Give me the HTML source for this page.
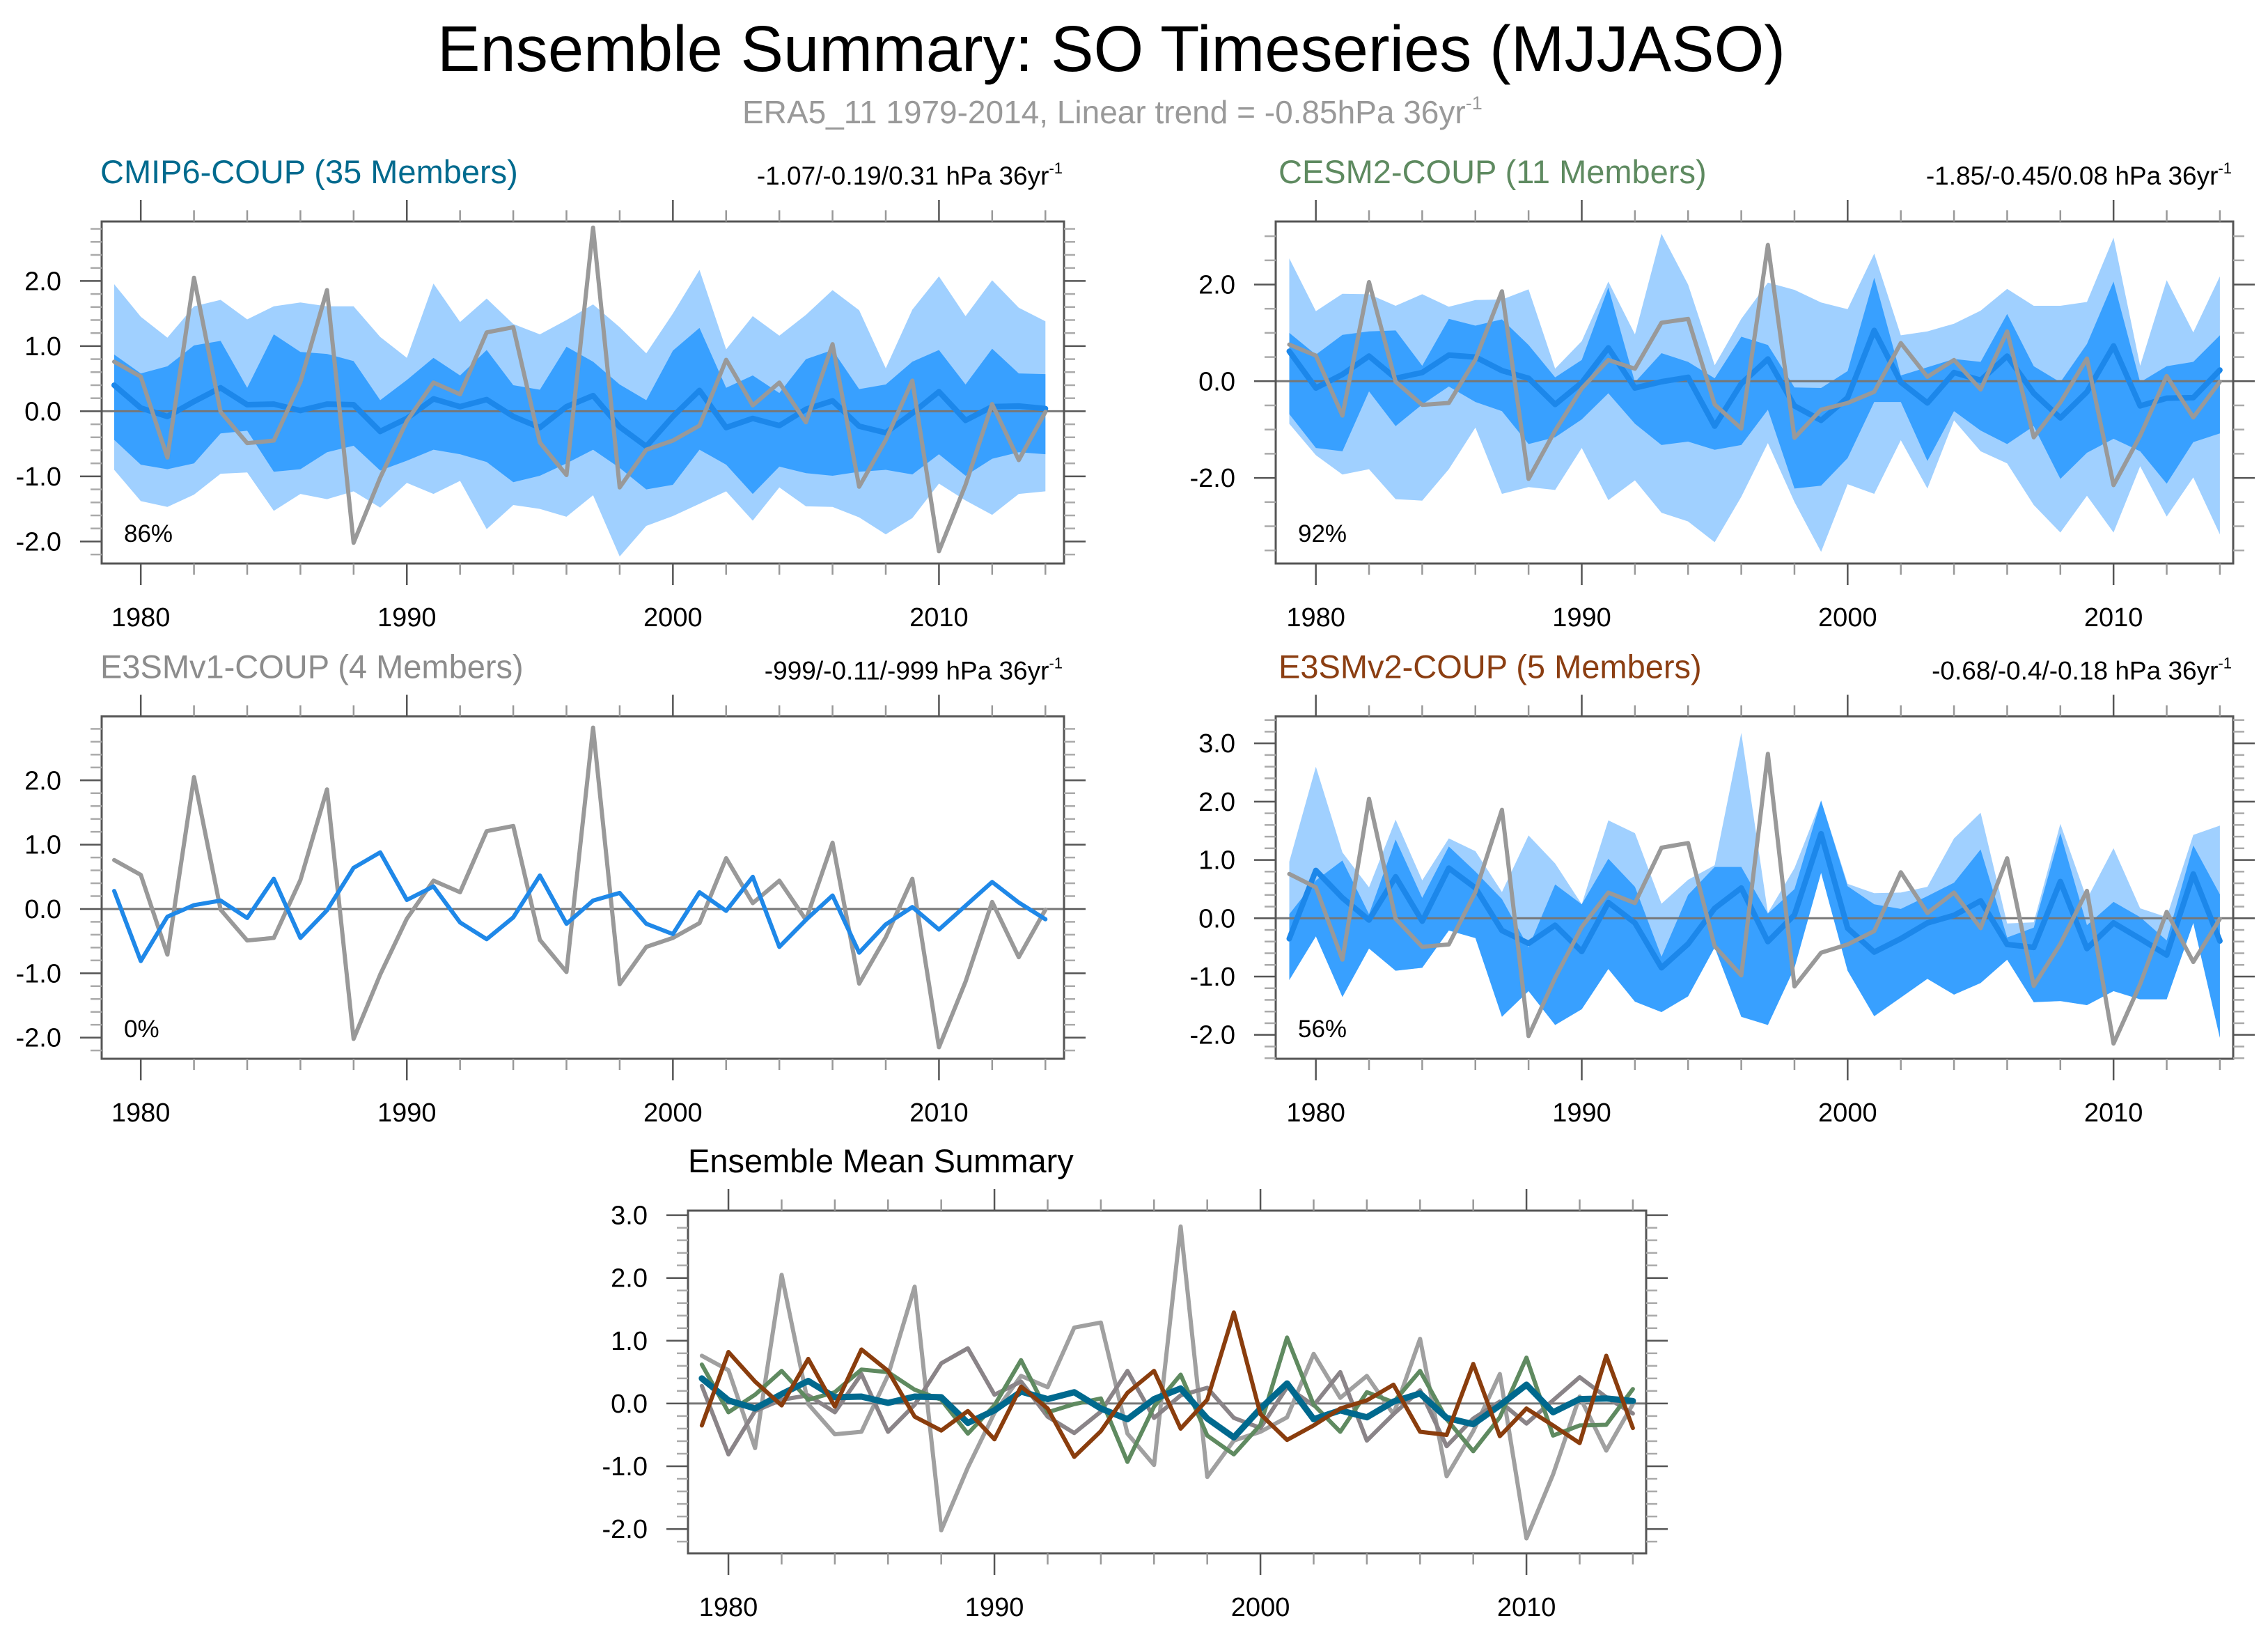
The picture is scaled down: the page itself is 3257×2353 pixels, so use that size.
<!DOCTYPE html>
<html><head><meta charset="utf-8"><title>Ensemble Summary: SO Timeseries (MJJASO)</title>
<style>
html,body{margin:0;padding:0;background:#fff;}
svg{display:block;font-family:"Liberation Sans",Arial,sans-serif;}
</style></head>
<body>
<svg id="chart" xmlns="http://www.w3.org/2000/svg" width="3257" height="2353" viewBox="0 0 3257 2353">
<rect width="3257" height="2353" fill="#fff"/>
<text x="1596" y="102" font-size="93" text-anchor="middle" textLength="1936" lengthAdjust="spacingAndGlyphs" fill="#000">Ensemble Summary: SO Timeseries (MJJASO)</text>
<text x="1066" y="177" font-size="46" fill="#999">ERA5_11 1979-2014, Linear trend = -0.85hPa 36yr<tspan dy="-20" font-size="27">-1</tspan></text>
</svg>
<script>
const years = [1979,1980,1981,1982,1983,1984,1985,1986,1987,1988,1989,1990,1991,1992,1993,1994,1995,1996,1997,1998,1999,2000,2001,2002,2003,2004,2005,2006,2007,2008,2009,2010,2011,2012,2013,2014];
const era5 = [0.76,0.53,-0.71,2.05,-0.01,-0.49,-0.45,0.45,1.86,-2.02,-1.02,-0.15,0.44,0.26,1.21,1.29,-0.48,-0.98,2.82,-1.17,-0.59,-0.45,-0.22,0.79,0.09,0.44,-0.17,1.03,-1.16,-0.44,0.47,-2.15,-1.13,0.11,-0.75,-0.01];

const cmipMean = [0.40,0.05,-0.08,0.15,0.36,0.10,0.11,0.01,0.11,0.10,-0.31,-0.11,0.19,0.07,0.18,-0.08,-0.25,0.07,0.24,-0.24,-0.54,-0.08,0.32,-0.25,-0.11,-0.22,0.03,0.16,-0.23,-0.33,-0.03,0.30,-0.14,0.07,0.08,0.04];
const cmipDarkHi = [0.87,0.58,0.69,1.01,1.08,0.36,1.18,0.91,0.88,0.77,0.17,0.48,0.82,0.55,0.94,0.40,0.33,0.99,0.76,0.41,0.17,0.93,1.28,0.36,0.55,0.28,0.80,0.94,0.34,0.41,0.76,0.94,0.41,0.96,0.58,0.57];
const cmipDarkLo = [-0.44,-0.82,-0.89,-0.80,-0.34,-0.30,-0.93,-0.89,-0.63,-0.53,-0.91,-0.76,-0.59,-0.66,-0.78,-1.09,-0.99,-0.80,-0.59,-0.87,-1.20,-1.13,-0.59,-0.82,-1.27,-0.85,-0.95,-0.99,-0.93,-0.90,-0.97,-0.66,-0.99,-0.73,-0.63,-0.66];
const cmipLightHi = [1.95,1.45,1.13,1.61,1.71,1.41,1.61,1.67,1.61,1.61,1.14,0.82,1.96,1.37,1.73,1.34,1.18,1.40,1.64,1.29,0.89,1.50,2.17,0.95,1.46,1.16,1.48,1.86,1.55,0.66,1.56,2.07,1.46,2.01,1.59,1.38];
const cmipLightLo = [-0.90,-1.38,-1.47,-1.28,-0.96,-0.94,-1.53,-1.27,-1.35,-1.23,-1.48,-1.10,-1.27,-1.07,-1.81,-1.44,-1.50,-1.62,-1.29,-2.23,-1.76,-1.61,-1.42,-1.23,-1.68,-1.17,-1.46,-1.47,-1.63,-1.89,-1.64,-1.11,-1.37,-1.59,-1.27,-1.23];

const cesmMean = [0.62,-0.14,0.14,0.52,0.06,0.18,0.54,0.50,0.22,0.06,-0.48,-0.03,0.69,-0.14,-0.01,0.08,-0.93,-0.05,0.46,-0.51,-0.81,-0.34,1.05,-0.02,-0.45,0.18,0.02,0.52,-0.25,-0.76,-0.22,0.73,-0.51,-0.35,-0.34,0.23];
const cesmDarkHi = [1.00,0.55,0.96,1.03,1.05,0.32,1.29,1.15,1.28,0.75,0.08,0.44,1.94,-0.02,0.58,0.40,0.06,0.92,0.75,-0.13,-0.14,0.21,2.14,0.12,0.29,0.46,0.40,1.39,0.31,-0.02,0.77,2.06,-0.02,0.31,0.40,0.95];
const cesmDarkLo = [-0.68,-1.38,-1.45,-0.21,-0.93,-0.48,-0.11,-0.43,-0.62,-1.30,-1.16,-0.79,-0.25,-0.88,-1.32,-1.25,-1.42,-1.32,-0.59,-2.22,-2.16,-1.59,-0.43,-0.43,-1.65,-0.62,-1.02,-1.30,-0.93,-2.02,-1.48,-1.19,-1.45,-2.12,-1.26,-1.08];
const cesmLightHi = [2.54,1.45,1.81,1.80,1.56,1.80,1.54,1.68,1.69,1.90,0.26,0.83,2.06,0.97,3.05,2.00,0.33,1.29,2.04,1.89,1.63,1.49,2.64,0.95,1.03,1.19,1.46,1.91,1.56,1.56,1.64,2.97,0.32,2.09,1.01,2.17];
const cesmLightLo = [-0.88,-1.53,-1.93,-1.82,-2.44,-2.47,-1.82,-0.96,-2.33,-2.19,-2.25,-1.38,-2.46,-2.05,-2.72,-2.90,-3.33,-2.39,-1.28,-2.50,-3.53,-2.13,-2.33,-1.22,-2.22,-0.81,-1.45,-1.70,-2.56,-3.13,-2.37,-3.13,-1.76,-2.80,-1.99,-3.17];

const e3v1Mean = [0.28,-0.81,-0.12,0.06,0.13,-0.14,0.47,-0.45,-0.02,0.64,0.88,0.14,0.35,-0.21,-0.47,-0.13,0.52,-0.23,0.13,0.25,-0.23,-0.39,0.26,-0.03,0.50,-0.59,-0.17,0.21,-0.68,-0.24,0.03,-0.32,0.05,0.42,0.10,-0.16];

const e3v2Mean = [-0.35,0.82,0.35,-0.03,0.71,-0.05,0.86,0.52,-0.21,-0.43,-0.12,-0.57,0.27,-0.08,-0.85,-0.44,0.17,0.52,-0.40,0.06,1.45,-0.17,-0.58,-0.35,-0.08,0.05,0.30,-0.45,-0.50,0.63,-0.52,-0.08,-0.35,-0.63,0.76,-0.39];
const e3v2DarkHi = [0.07,0.65,0.99,0.07,1.35,0.35,1.23,0.80,0.33,-0.50,0.58,0.24,1.02,0.54,-0.66,0.40,0.88,0.88,0.08,0.50,2.02,0.55,0.24,0.16,0.38,0.61,1.18,-0.33,-0.16,1.46,-0.12,0.28,0.02,-0.38,1.25,0.41];
const e3v2DarkLo = [-1.06,-0.31,-1.35,-0.52,-0.90,-0.85,-0.21,-0.34,-1.69,-1.25,-1.83,-1.56,-0.87,-1.43,-1.61,-1.34,-0.50,-1.69,-1.83,-0.85,0.78,-0.90,-1.68,-1.36,-1.04,-1.31,-1.11,-0.71,-1.44,-1.42,-1.49,-1.25,-1.39,-1.39,-0.08,-2.05];
const e3v2LightHi = [0.97,2.60,1.13,0.53,1.69,0.65,1.37,1.15,0.45,1.42,0.94,0.24,1.68,1.46,0.25,0.66,0.91,3.18,0.09,0.86,2.02,0.59,0.43,0.44,0.54,1.37,1.81,-0.09,-0.07,1.62,0.33,1.20,0.17,0.02,1.43,1.59];
const e3v2LightLo = [-1.06,-0.31,-1.35,-0.52,-0.90,-0.85,-0.21,-0.34,-1.69,-1.25,-1.83,-1.56,-0.87,-1.43,-1.61,-1.34,-0.50,-1.69,-1.83,-0.85,0.78,-0.90,-1.68,-1.36,-1.04,-1.31,-1.11,-0.71,-1.44,-1.42,-1.49,-1.25,-1.39,-1.39,-0.08,-2.05];

const xTickLabels = ["1980","1990","2000","2010"];

const NS = "http://www.w3.org/2000/svg";
const svg = document.getElementById("chart");
function mk(tag, attrs, parent){
  const e = document.createElementNS(NS, tag);
  for (const k in attrs) e.setAttribute(k, attrs[k]);
  (parent||svg).appendChild(e);
  return e;
}
const LIGHT = "#a0d0ff", DARK = "#38a0ff", MEAN = "#1c87ea", ERA = "#999999";

function panel(cfg){
  const g = mk("g", {});
  
  
  const sx = v => cfg.x0 + (v - cfg.xmin) / (cfg.xmax - cfg.xmin) * (cfg.x1 - cfg.x0);
  const sy = v => cfg.y1 - (v - cfg.ymin) / (cfg.ymax - cfg.ymin) * (cfg.y1 - cfg.y0);
  function band(hi, lo, color, nm){
    let d = "";
    years.forEach((yr,i)=>{ d += (i?"L":"M") + sx(yr).toFixed(1) + "," + sy(hi[i]).toFixed(1); });
    for (let i = years.length-1; i >= 0; i--) d += "L" + sx(years[i]).toFixed(1) + "," + sy(lo[i]).toFixed(1);
    const p = mk("path", {d: d + "Z", fill: color, stroke: "none"}, g);
    
    
  }
  function line(vals, color, w, nm){
    const pts = years.map((yr,i)=> sx(yr).toFixed(1) + "," + sy(vals[i]).toFixed(1)).join(" ");
    const p = mk("polyline", {points: pts, fill: "none", stroke: color, "stroke-width": w, "stroke-linejoin": "round", "stroke-linecap": "round"}, g);
    
    
  }
  if (cfg.bands){
    band(cfg.bands.lightHi, cfg.bands.lightLo, LIGHT, "light-spread-band");
    band(cfg.bands.darkHi, cfg.bands.darkLo, DARK, "dark-spread-band");
  }
  const z = mk("line", {x1: cfg.x0, x2: cfg.x1, y1: sy(0), y2: sy(0), stroke: "#777", "stroke-width": 3}, g);
  
  
  cfg.lines.forEach(l => line(l.vals, l.color, l.w, l.name));
  const fr = mk("rect", {x: cfg.x0, y: cfg.y0, width: cfg.x1-cfg.x0, height: cfg.y1-cfg.y0, fill: "none", stroke: "#555", "stroke-width": 3}, g);
  
  
  for (let yr = 1980; yr <= 2014; yr += 2){
    const major = (yr % 10 === 0);
    const L = major ? 31 : 16, c = major ? "#555" : "#999";
    const x = sx(yr);
    mk("line", {x1:x, x2:x, y1:cfg.y1, y2:cfg.y1+L, stroke:c, "stroke-width":2.5}, g);
    mk("line", {x1:x, x2:x, y1:cfg.y0, y2:cfg.y0-L, stroke:c, "stroke-width":2.5}, g);
  }
  xTickLabels.forEach(lbl => {
    const t = mk("text", {x: sx(+lbl), y: cfg.y1 + 90, "font-size": 38, "text-anchor": "middle", fill: "#000"}, g);
    t.textContent = lbl;
    
    
  });
  const st = cfg.minor;
  for (let k = Math.ceil(cfg.ymin/st - 1e-6); k*st <= cfg.ymax + 1e-6; k++){
    const v = k*st;
    const isMaj = Math.abs(v/cfg.major - Math.round(v/cfg.major)) < 1e-6;
    const L = isMaj ? 31 : 16, c = isMaj ? "#555" : "#aaa";
    const y = sy(v);
    mk("line", {x1:cfg.x0, x2:cfg.x0-L, y1:y, y2:y, stroke:c, "stroke-width":2.5}, g);
    mk("line", {x1:cfg.x1, x2:cfg.x1+L, y1:y, y2:y, stroke:c, "stroke-width":2.5}, g);
    if (isMaj){
      const t = mk("text", {x: cfg.x0 - 58, y: y + 13, "font-size": 38, "text-anchor": "end", fill: "#000"}, g);
      t.textContent = v.toFixed(1);
      
      
    }
  }
  const tt = mk("text", {x: cfg.titleX, y: cfg.y0 - 55, "font-size": 47, fill: cfg.titleColor}, g);
  tt.textContent = cfg.title;
  
  
  if (cfg.trend){
    const tr = mk("text", {x: cfg.x1 - 2, y: cfg.y0 - 53, "font-size": 37, "text-anchor": "end", fill: "#000"}, g);
    tr.textContent = cfg.trend;
    const sup = mk("tspan", {dy: -16, "font-size": 22}, tr);
    sup.textContent = "-1";
    
    
  }
  if (cfg.pct){
    const pt = mk("text", {x: cfg.x0 + 32, y: cfg.y1 - 31, "font-size": 35, fill: "#000"}, g);
    pt.textContent = cfg.pct;
    
    
  }
}

panel({name:"cmip6-panel", x0:146, x1:1528, y0:318, y1:809, xmin:1978.53, xmax:2014.7, ymin:-2.338, ymax:2.913, minor:0.2, major:1.0,
  title:"CMIP6-COUP (35 Members)", titleColor:"#006a8e", titleX:144, trend:"-1.07/-0.19/0.31 hPa 36yr", pct:"86%",
  bands:{lightHi:cmipLightHi, lightLo:cmipLightLo, darkHi:cmipDarkHi, darkLo:cmipDarkLo},
  lines:[{vals:cmipMean,color:MEAN,w:8,name:"ensemble-mean-line"},{vals:era5,color:ERA,w:6,name:"era5-line"}]});

panel({name:"cesm2-panel", x0:1832, x1:3207, y0:318, y1:809, xmin:1978.49, xmax:2014.5, ymin:-3.771, ymax:3.304, minor:0.5, major:2.0,
  title:"CESM2-COUP (11 Members)", titleColor:"#5e8a60", titleX:1836, trend:"-1.85/-0.45/0.08 hPa 36yr", pct:"92%",
  bands:{lightHi:cesmLightHi, lightLo:cesmLightLo, darkHi:cesmDarkHi, darkLo:cesmDarkLo},
  lines:[{vals:cesmMean,color:MEAN,w:8,name:"ensemble-mean-line"},{vals:era5,color:ERA,w:6,name:"era5-line"}]});

panel({name:"e3smv1-panel", x0:146, x1:1528, y0:1028.5, y1:1520, xmin:1978.53, xmax:2014.7, ymin:-2.329, ymax:2.994, minor:0.2, major:1.0,
  title:"E3SMv1-COUP (4 Members)", titleColor:"#8c8c8c", titleX:144, trend:"-999/-0.11/-999 hPa 36yr", pct:"0%",
  lines:[{vals:era5,color:ERA,w:6,name:"era5-line"},{vals:e3v1Mean,color:"#1f88e8",w:6,name:"ensemble-mean-line"}]});

panel({name:"e3smv2-panel", x0:1832, x1:3207, y0:1028.5, y1:1520, xmin:1978.49, xmax:2014.5, ymin:-2.410, ymax:3.462, minor:0.2, major:1.0,
  title:"E3SMv2-COUP (5 Members)", titleColor:"#8b3e12", titleX:1836, trend:"-0.68/-0.4/-0.18 hPa 36yr", pct:"56%",
  bands:{lightHi:e3v2LightHi, lightLo:e3v2LightLo, darkHi:e3v2DarkHi, darkLo:e3v2DarkLo},
  lines:[{vals:e3v2Mean,color:MEAN,w:8,name:"ensemble-mean-line"},{vals:era5,color:ERA,w:6,name:"era5-line"}]});

panel({name:"ensemble-mean-summary-panel", x0:988, x1:2364, y0:1738, y1:2230, xmin:1978.48, xmax:2014.5, ymin:-2.387, ymax:3.073, minor:0.2, major:1.0,
  title:"Ensemble Mean Summary", titleColor:"#000", titleX:988,
  lines:[{vals:era5,color:"#a0a0a0",w:6,name:"era5-line"},
         {vals:e3v1Mean,color:"#8a8488",w:6,name:"e3smv1-mean-line"},
         {vals:cesmMean,color:"#5f8a60",w:6,name:"cesm2-mean-line"},
         {vals:cmipMean,color:"#00698e",w:9,name:"cmip6-mean-line"},
         {vals:e3v2Mean,color:"#8a3d0d",w:6,name:"e3smv2-mean-line"}]});
</script>
</body></html>
